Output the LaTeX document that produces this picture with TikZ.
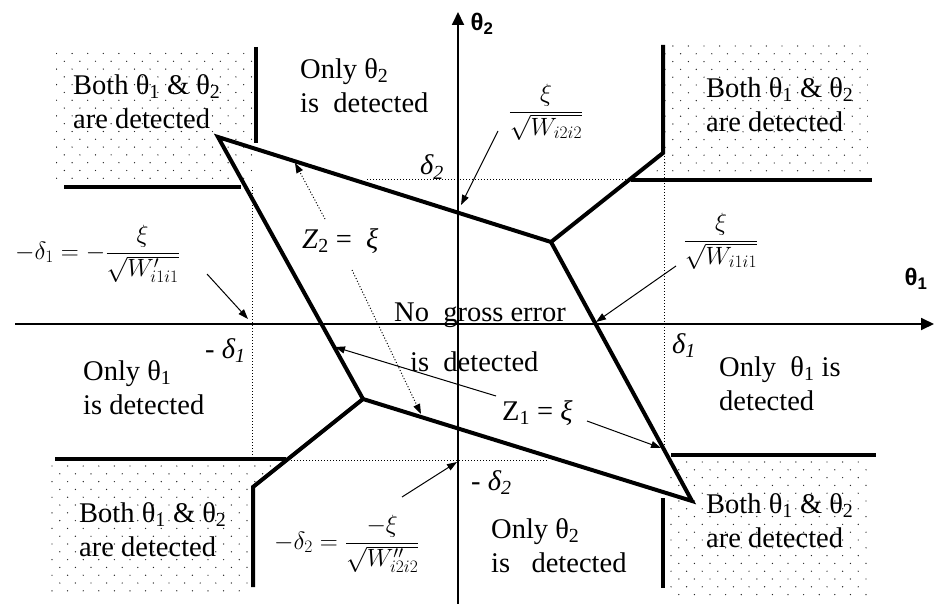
\RequirePackage{fix-cm}
\documentclass[tikz,border=0pt]{standalone}
\usepackage{fontspec}
\setmainfont{Liberation Serif}
\newfontfamily\axfont{Liberation Sans}
\usetikzlibrary{arrows.meta}
\newcommand\dotgrid[4]{\foreach \j in {0,...,#4}{\foreach \i in {0,...,#3}{\fill[dotc] ({#1+15.6*\i+7.8*mod(\j,2)},{#2+7.8*\j}) circle[radius=0.7];}}}
\begin{document}
\begin{tikzpicture}[x=1pt,y=-1pt,
  thickln/.style={line width=4pt, line join=miter},
  axisln/.style={line width=1.8pt, -{Triangle[length=13pt,width=12pt]}},
  thinarr/.style={line width=1pt, -{Triangle[length=10pt,width=7pt]}},
  dotarr/.style={thinarr, dotted},
  guide/.style={line width=1pt, dotted},
  lbl/.style={inner sep=0pt, anchor=north west, align=left, font=\fontsize{28.5}{34}\selectfont},
  sym/.style={inner sep=0pt, anchor=base west, font=\fontsize{28.5}{34}\selectfont},
  mth/.style={inner sep=0pt, anchor=base west, font=\fontsize{25}{30}\selectfont},
  mthc/.style={inner sep=0pt, anchor=base, font=\fontsize{25}{30}\selectfont},
  axlbl/.style={inner sep=0pt, font=\axfont\bfseries\fontsize{24}{28}\selectfont},
  dotc/.style={fill=black!85}]
\useasboundingbox (0,0) rectangle (934,604);

% dotted shading of the four corner regions
\begin{scope}
\clip (56,52) rectangle (253,183);
\dotgrid{56.5}{53.5}{13}{17}
\end{scope}
\begin{scope}
\clip (629,178) -- (664,149) -- (664,43) -- (868,43) -- (868,175) -- cycle;
\dotgrid{626}{46}{16}{17}
\end{scope}
\begin{scope}
\clip (50,463) -- (287,463) -- (253,490) -- (253,592) -- (50,592) -- cycle;
\dotgrid{52}{466}{16}{17}
\end{scope}
\begin{scope}
\clip (669,460) rectangle (869,595);
\dotgrid{671}{462}{13}{18}
\end{scope}

% coordinates
\coordinate (A) at (218,137);
\coordinate (B) at (551,242);
\coordinate (E) at (692,501);
\coordinate (F) at (363,399);
\coordinate (C) at (663,153);
\coordinate (Ct) at (663,45);
\coordinate (G) at (253,487);
\coordinate (Gb) at (253,587);
\coordinate (tlv1) at (256,47);
\coordinate (tlv2) at (256,143);
\coordinate (tlh1) at (64,187);
\coordinate (tlh2) at (241,187);
\coordinate (trh1) at (631,180);
\coordinate (trh2) at (872,180);
\coordinate (blh1) at (55,459);
\coordinate (blh2) at (286,459);
\coordinate (brh1) at (671,455);
\coordinate (brh2) at (876,455);
\coordinate (brv1) at (663,498);
\coordinate (brv2) at (663,588);
\coordinate (xl) at (15,324);
\coordinate (xr) at (934,324);
\coordinate (yb) at (458,604);
\coordinate (yt) at (458,12);
\coordinate (gt1) at (367,180);
\coordinate (gt2) at (664,180);
\coordinate (gb1) at (252,460);
\coordinate (gb2) at (547,460);
\coordinate (gl1) at (252,187);
\coordinate (gl2) at (252,460);
\coordinate (gr1) at (664,153);
\coordinate (gr2) at (664,448);

% dotted guide lines
\draw[guide] (gt1) -- (gt2);
\draw[guide] (gb1) -- (gb2);
\draw[guide] (gl1) -- (gl2);
\draw[guide] (gr1) -- (gr2);

% thick boundaries
\draw[thickln] (A) -- (B) -- (E) -- (F) -- cycle;
\draw[thickln] (B) -- (C) -- (Ct);
\draw[thickln] (F) -- (G) -- (Gb);
\draw[thickln] (tlv1) -- (tlv2);
\draw[thickln] (tlh1) -- (tlh2);
\draw[thickln] (trh1) -- (trh2);
\draw[thickln] (blh1) -- (blh2);
\draw[thickln] (brh1) -- (brh2);
\draw[thickln] (brv1) -- (brv2);

% axes
\draw[axisln] (xl) -- (xr);
\draw[axisln] (yb) -- (yt);
\node[axlbl] (th2) at (482,24) {θ\textsubscript{2}};
\node[axlbl] (th1) at (916,279) {θ\textsubscript{1}};

% region labels
\node[lbl] (tl) at (73,70.2) {\strut Both θ\textsubscript{1} \& θ\textsubscript{2}\\are detected};
\node[lbl] (tm) at (300,54.2) {\strut Only θ\textsubscript{2}\\is \ detected};
\node[lbl] (tr) at (706,73.2) {\strut Both θ\textsubscript{1} \& θ\textsubscript{2}\\are detected};
\node[lbl] (ml) at (83,356.2) {\strut Only θ\textsubscript{1}\\is detected};
\node[lbl] (mr) at (719,352.2) {\strut Only \ θ\textsubscript{1} is\\detected};
\node[lbl] (bl) at (79,498.2) {\strut Both θ\textsubscript{1} \& θ\textsubscript{2}\\are detected};
\node[lbl] (bm) at (491,514.2) {\strut Only θ\textsubscript{2}\\is \ \ detected};
\node[lbl] (br) at (706,489.2) {\strut Both θ\textsubscript{1} \& θ\textsubscript{2}\\are detected};
\node[lbl, font=\fontsize{28.5}{50}\selectfont] (ng) at (394,286.2) {\strut No \ gross error\\\hspace*{16pt}is \ detected};

% delta labels
\node[sym] (d2) at (420,175) {\itshape δ\textsubscript{2}};
\node[sym] (md2) at (471,490) {- \itshape δ\textsubscript{2}};
\node[sym] (d1) at (672,353) {\itshape δ\textsubscript{1}};
\node[sym] (md1) at (205,358) {- \itshape δ\textsubscript{1}};

% Z labels
\node[sym] (z1) at (502,420) {Z\textsubscript{1} = \textit{ξ}};
\node[sym] (z2) at (302,248) {\textit{Z}\textsubscript{2} = \ \textit{ξ}};

% formula labels
\node[mthc] (f1) at (546,118) {$\displaystyle\frac{\xi}{\sqrt{W_{i2i2}}}$};
\node[mthc] (f2) at (721,247) {$\displaystyle\frac{\xi}{\sqrt{W_{i1i1}}}$};
\node[mth] (f3) at (15,259) {$\displaystyle -\delta_1=-\frac{\xi}{\sqrt{W'_{i1i1}}}$};
\node[mth] (f4) at (274,549) {$\displaystyle -\delta_2=\frac{-\xi}{\sqrt{W''_{i2i2}}}$};

% pointer arrows
\coordinate (a1s) at (498,131);
\coordinate (a1e) at (461,205);
\coordinate (a2s) at (676,266);
\coordinate (a2e) at (596,322);
\coordinate (a3s) at (207,274);
\coordinate (a3e) at (248,319);
\coordinate (a4s) at (402,497);
\coordinate (a4e) at (457,462);
\coordinate (z1as) at (496,396);
\coordinate (z1ae) at (335,347);
\coordinate (z1bs) at (587,421);
\coordinate (z1be) at (661,448);
\coordinate (z2as) at (325,219);
\coordinate (z2ae) at (295,163);
\coordinate (z2bs) at (352,270);
\coordinate (z2be) at (421,414);
\draw[thinarr] (a1s) -- (a1e);
\draw[thinarr] (a2s) -- (a2e);
\draw[thinarr] (a3s) -- (a3e);
\draw[thinarr] (a4s) -- (a4e);
\draw[thinarr] (z1as) -- (z1ae);
\draw[thinarr] (z1bs) -- (z1be);
\draw[dotarr] (z2as) -- (z2ae);
\draw[dotarr] (z2bs) -- (z2be);
\end{tikzpicture}
\end{document}
